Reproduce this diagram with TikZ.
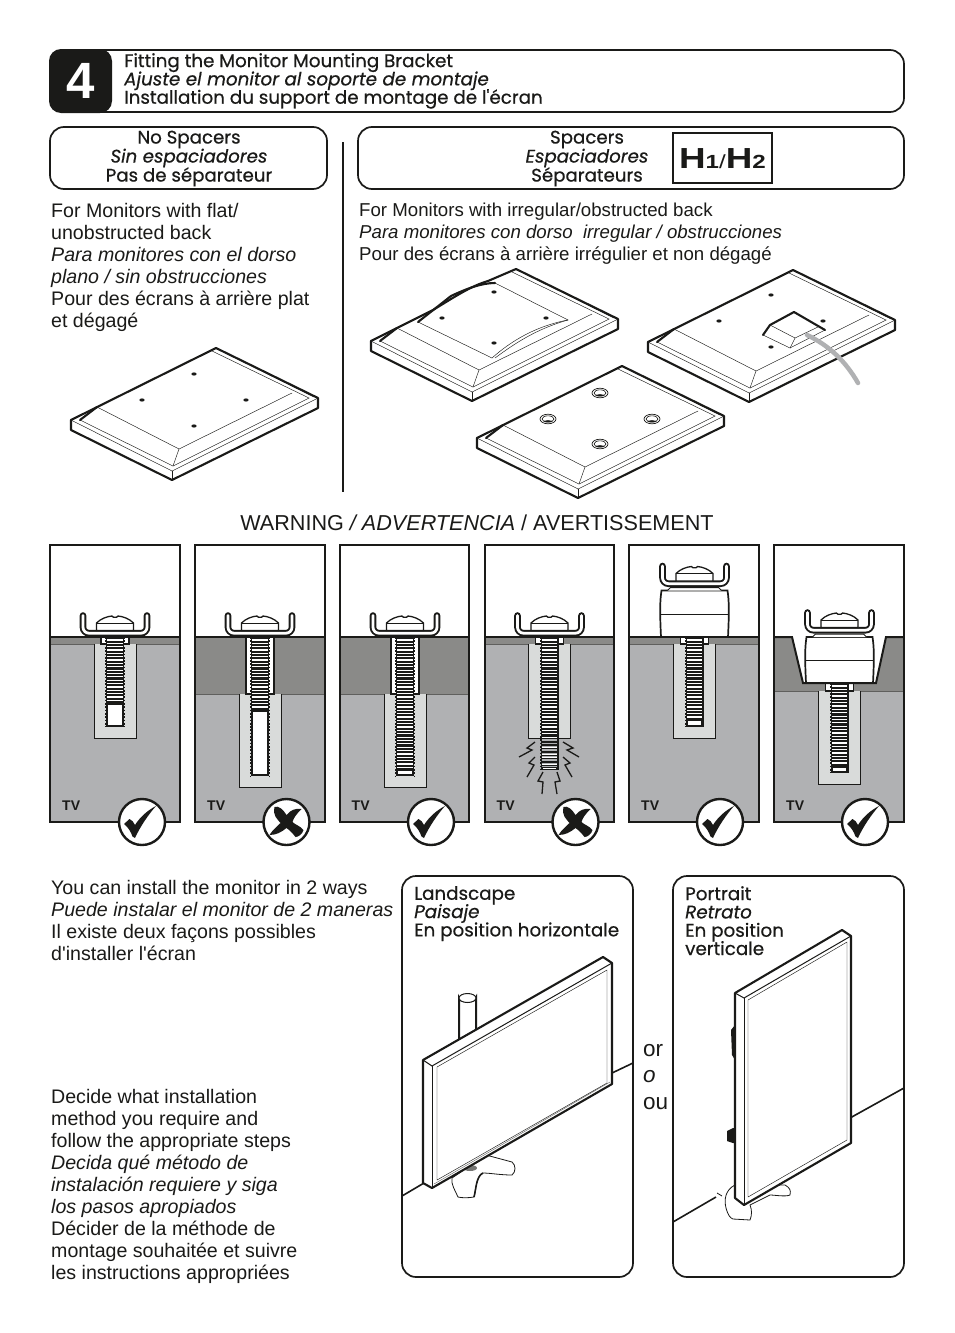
\documentclass[tikz,border=0pt]{standalone}
\usepackage{fontspec}
\setmainfont{Liberation Sans}
\newfontfamily\bodyfont{Liberation Sans}
\newfontfamily\hdfont[FakeBold=0.55]{Poppins}
\setlength\lineskiplimit{-100pt}
\definecolor{tvgray}{HTML}{B0B1B3}
\definecolor{bandgray}{HTML}{8A8A88}
\definecolor{holegray}{HTML}{D9DBDA}
\definecolor{ink}{HTML}{1A1A18}
\definecolor{cable}{HTML}{B0B1B3}
\tikzset{
  box/.style={draw=ink,line width=1.7pt,rounded corners=14pt,fill=white},
  thickln/.style={draw=ink,line width=2.1pt,line join=round,line cap=round},
  thinln/.style={draw=ink,line width=0.45pt},
  body/.style={anchor=north west,inner sep=0pt,align=left,text=ink,font=\bodyfont\fontsize{19.6}{22}\selectfont},
  bodyr/.style={anchor=north west,inner sep=0pt,align=left,text=ink,font=\bodyfont\fontsize{18.65}{22}\selectfont},
  hdl/.style={anchor=north west,inner sep=0pt,align=left,text=ink,font=\hdfont\fontsize{18.3}{18.3}\selectfont},
  hdc/.style={anchor=center,inner sep=0pt,align=center,text=ink,font=\hdfont\fontsize{18.2}{19}\selectfont},
  tvlabel/.style={anchor=base west,inner sep=0pt,text=ink,font=\bfseries\fontsize{14}{14}\selectfont},
}
% plate: origin at left upper corner
\newcommand\plateframe{%
  \path[fill=white] (0,0)--(145,-72)--(247,-22)--(247,-12)--(101,60)--(0,10)--cycle;
  \draw[thickln] (0,0)--(0,10)--(101,60)--(247,-12)--(247,-22)--(145,-72);
  \draw[thinln] (0,0)--(101,51)--(247,-22);
  \draw[thinln] (101,51)--(101,60);
  \draw[thinln] (9,0)--(102,46)--(238,-22)--(141,-69);
  \draw[thinln] (145,-72)--(243,-23);
  \draw[thinln] (108,29)--(102,46);
  \draw[thinln] (26,-13)--(108,29)--(221,-27);
}
\newcommand\plateflat{%
  \draw[thickln] (0,0)--(145,-72);
  \draw[thickln] (9,0)--(26,-13);
}
\newcommand\platedot[1]{\fill[ink] (#1) ellipse (2.6pt and 1.6pt);}
\newcommand\platewasher[1]{%
  \draw[ink,line width=0.7pt,fill=white] (#1) ellipse (8pt and 4.8pt);
  \draw[ink,line width=0.6pt,fill=white] (#1) ellipse (6pt and 3.2pt);
  \begin{scope}
  \clip (#1) ellipse (6pt and 3.2pt);
  \fill[ink] ([yshift=-3.2pt]#1) ellipse (5.5pt and 2pt);
  \end{scope}
}
% bracket and screw head; origin = (cx, underside of bracket)
\newcommand\bracket[2]{%
  \begin{scope}[shift={(#1,#2)}]
  \draw[ink,line width=6.6pt,line cap=round,rounded corners=6pt] (-32,-21)--(-32,-3.3)--(32,-3.3)--(32,-21);
  \draw[white,line width=2.8pt,line cap=round,rounded corners=6pt] (-32,-21)--(-32,-3.3)--(32,-3.3)--(32,-21);
  \draw[ink,line width=1.3pt,fill=white] (-18.5,-6)--(-18.5,-13.5) .. controls (-14,-18) and (-8,-20) .. (-3,-20.5)--(-1.5,-19.2)--(1.5,-19.2)--(3,-20.5) .. controls (8,-20) and (14,-18) .. (18.5,-13.5)--(18.5,-6)--cycle;
  \draw[ink,line width=0.7pt] (-18.5,-13.5)--(18.5,-13.5);
  \end{scope}
}
\newcommand\threads[4]{%
  \pgfmathsetmacro\threadA{#2}\pgfmathsetmacro\threadB{#2+3.35}\pgfmathsetmacro\threadC{#3}
  \foreach \yy in {\threadA,\threadB,...,\threadC}{\draw[#4,line width=1.25pt] (#1-7.6,\yy)--(#1+7.6,\yy);}
}
\newcommand\shaft[4]{% cx, top, thread end, bottom
  \fill[ink] (#1-9,#2) rectangle (#1+9,#4);
  \draw[ink,line width=1pt,dash pattern=on 1.7pt off 1.6pt] (#1-9.4,#2)--(#1-9.4,#4);
  \draw[ink,line width=1pt,dash pattern=on 1.7pt off 1.6pt] (#1+9.4,#2)--(#1+9.4,#4);
  \threads{#1}{#2+3}{#3-2}{white}
  \fill[white] (#1-6.8,#3) rectangle (#1+6.8,#4-1.6);
}
\newcommand\panelbase[5]{% x0,x1,band bottom,centre x,hole bottom
  \fill[white] (#1,545) rectangle (#2,637);
  \fill[tvgray] (#1,637) rectangle (#2,822);
  \fill[bandgray] (#1,637) rectangle (#2,#3);
  \draw[ink!70,line width=0.8pt] (#1,#3)--(#2,#3);
  \fill[holegray] (#4-21,#3) rectangle (#4+21,#5);
  \draw[ink,line width=0.7pt] (#4-21,#3)--(#4-21,#5)--(#4+21,#5)--(#4+21,#3);
}
\newcommand\surface[2]{\draw[ink,line width=1.7pt] (#1,637)--(#2,637);}
\newcommand\collar[3]{% cx, top, bottom
  \draw[ink,line width=1.2pt,fill=white] (#1-14,#2)--(#1-14,#3)--(#1+14,#3)--(#1+14,#2);
}
\newcommand\panelframe[2]{\draw[ink,line width=2.1pt,line join=miter] (#1,545) rectangle (#2,822);}
\newcommand\spacerbody[4]{% cx, top, bottom, mid
  \draw[ink,line width=1.7pt,fill=white] (#1-33.5,#3) .. controls (#1-34.8,#2+20) and (#1-34.5,#2+10) .. (#1-33,#2) -- (#1+33,#2) .. controls (#1+34.5,#2+10) and (#1+34.8,#2+20) .. (#1+33.5,#3) -- cycle;
  \draw[ink,line width=0.9pt] (#1-34,#4)--(#1+34,#4);
  \draw[ink,line width=1pt,fill=white] (#1-27,#2)--(#1-24,#2-3)--(#1+24,#2-3)--(#1+27,#2);
}
\newcommand\markcircle[1]{\draw[ink,line width=2.4pt,fill=white] (#1,822) circle (23pt);}
\newcommand\checkmk[1]{%
  \begin{scope}[shift={(#1,822)}]
  \fill[ink] (-18,2)--(-12.5,-3) .. controls (-10,-2) and (-8.5,0) .. (-7,3) .. controls (-2,-5) and (6,-12) .. (14,-16) .. controls (6,-7) and (-2,5) .. (-7,16) -- (-9.5,14.5) .. controls (-11,10) and (-14,5) .. (-18,2) -- cycle;
  \end{scope}
}
\newcommand\crossmk[1]{%
  \begin{scope}[shift={(#1,822)}]
  \fill[ink] (-12,-15) .. controls (-8,-17) and (-3,-12) .. (0,-7) .. controls (4,-12) and (9,-14) .. (15,-13) .. controls (10,-8) and (7,-4) .. (6,0) .. controls (9,3) and (14,4) .. (17,8) .. controls (16,12) and (12,15) .. (9,15) .. controls (6,11) and (3,8) .. (0,6) .. controls (-5,10) and (-10,13) .. (-17,13) .. controls (-14,8) and (-10,5) .. (-6,1) .. controls (-9,-3) and (-14,-6) .. (-12,-15) -- cycle;
  \end{scope}
}
\begin{document}
\begin{tikzpicture}[x=1pt,y=-1pt]
\useasboundingbox (0,0) rectangle (954,1333);
\fill[white] (0,0) rectangle (954,1333);

% title bar
\draw[box] (50,50) rectangle (904,112);
\fill[ink,rounded corners=12pt] (49,49) rectangle (112,113);
\node[name=stepnum,text=white,font=\bfseries\fontsize{51}{51}\selectfont,inner sep=0pt] at (81,81) {4};
\node[hdl,name=title] at (124,53) {Fitting the Monitor Mounting Bracket\\\textit{Ajuste el monitor al soporte de montaje}\\Installation du support de montage de l'écran};

% sub headers
\draw[box] (50,127) rectangle (327,189);
\node[hdc,name=nospacers] at (189,158.5) {No Spacers\\\textit{Sin espaciadores}\\Pas de séparateur};
\draw[box] (358,127) rectangle (904,189);
\node[hdc,name=spacers] at (587,158.5) {Spacers\\\textit{Espaciadores}\\Séparateurs};
\draw[ink,line width=1.7pt] (673,133) rectangle (772,183);
\node[name=hone,inner sep=0pt,text=ink,xscale=1.27] at (722.5,159) {\fontsize{29}{29}\selectfont\bfseries H\fontsize{19}{19}\selectfont 1\mdseries /\bfseries\fontsize{29}{29}\selectfont H\fontsize{19}{19}\selectfont 2};
\draw[ink,line width=2pt] (343,142)--(343,492);

% upper text
\node[body,name=lefttext] at (51,203) {For Monitors with flat/\\unobstructed back\\\textit{Para monitores con el dorso}\\\textit{plano / sin obstrucciones}\\Pour des écrans à arrière plat\\et dégagé};
\node[bodyr,name=righttext] at (359,203) {For Monitors with irregular/obstructed back\\\textit{Para monitores con dorso\ \ irregular / obstrucciones}\\Pour des écrans à arrière irrégulier et non dégagé};

% plate no spacers
\begin{scope}[shift={(71,420)}]
  \plateframe\plateflat
  \platedot{123,-46}\platedot{71,-20}\platedot{175,-20}\platedot{123,6}
\end{scope}
% plate bulged
\begin{scope}[shift={(371,341)}]
  \plateframe
  \draw[thickln] (0,0)--(62,-31) .. controls (85,-45) and (100,-55) .. (117,-60)--(145,-72);
  \draw[thickln] (9,0)--(26,-13);
  \draw[thinln,fill=white] (47,-19)--(121,17) .. controls (140,0) and (165,-15) .. (197,-21)--(124,-58);
  \draw[thickln] (47,-19)--(80,-45) .. controls (95,-52) and (110,-58) .. (124,-58);
  \draw[thinln] (124,17) .. controls (143,3) and (165,-12) .. (197,-21);
  \platedot{123,-49}\platedot{71,-23}\platedot{175,-23}\platedot{123,2}
\end{scope}
% plate with box
\begin{scope}[shift={(648,342)}]
  \plateframe\plateflat
  \platedot{123,-47}\platedot{71,-21}\platedot{175,-21}\platedot{123,5}
  \path[fill=white] (115,-7)--(122,-17)--(146,-30)--(177,-12)--(142,6)--cycle;
  \draw[thinln] (115,-7)--(142,6)--(177,-12);
  \draw[thinln] (122,-17)--(147,-4)--(170,-15);
  \draw[thinln] (147,-4)--(142,6);
  \draw[thickln] (115,-7)--(122,-17)--(146,-30)--(177,-12);
  \draw[cable,line width=4.5pt,line cap=round] (159,-7) .. controls (182,4) and (198,20) .. (210,41);
\end{scope}
% plate washers
\begin{scope}[shift={(477,438)}]
  \plateframe\plateflat
  \platewasher{123,-45}\platewasher{71,-19}\platewasher{175,-19}\platewasher{123,6}
\end{scope}

\node[name=warning,inner sep=0pt,text=ink,font=\fontsize{21.6}{22}\selectfont] at (477,522.5) {WARNING \textit{/ ADVERTENCIA} / AVERTISSEMENT};

% panel 1
\panelbase{50}{180}{644}{115}{738}
\collar{115}{637}{644}
\shaft{115}{637}{705}{727}
\surface{50}{180}
\bracket{115}{636.5}
\panelframe{50}{180}
% panel 2
\panelbase{195}{325}{694}{260}{787}
\collar{260}{637}{694}
\shaft{260}{637}{712}{776}
\surface{195}{325}
\bracket{260}{636.5}
\panelframe{195}{325}
% panel 3
\panelbase{340}{469}{694}{405}{787}
\collar{405}{637}{694}
\shaft{405}{637}{771}{776}
\surface{340}{469}
\bracket{405}{636.5}
\panelframe{340}{469}
% panel 4
\panelbase{485}{614}{644}{549.5}{738}
\collar{549.5}{637}{644}
\shaft{549.5}{637}{768}{770}
\threads{549.5}{740}{768}{tvgray}
\surface{485}{614}
\bracket{549.5}{636.5}
\draw[ink,line width=1.3pt] (535,742)--(527,748)--(532,750)--(519,757);
\draw[ink,line width=1.3pt] (535,757)--(529,763)--(534,765)--(527,777);
\draw[ink,line width=1.3pt] (543,772)--(538,781)--(543,782)--(542,794);
\draw[ink,line width=1.3pt] (563,742)--(573,748)--(567,750)--(579,757);
\draw[ink,line width=1.3pt] (563,757)--(570,763)--(565,765)--(572,777);
\draw[ink,line width=1.3pt] (557,772)--(560,781)--(555,782)--(557,794);
\panelframe{485}{614}
% panel 5
\panelbase{629}{759}{644}{694.5}{738}
\collar{694.5}{637}{644}
\shaft{694.5}{637}{721}{727}
\surface{629}{759}
\spacerbody{694.5}{590.5}{637}{614}
\bracket{694.5}{587}
\panelframe{629}{759}
% panel 6
\panelbase{774}{904}{691}{839.5}{784}
\fill[white] (792,637)--(803,683)--(876,683)--(886,637)--cycle;
\collar{839.5}{683}{691}
\shaft{839.5}{683}{768}{773}
\draw[ink,line width=2pt,line join=miter] (774,637)--(792,637)--(803,683)--(876,683)--(886,637)--(904,637);
\spacerbody{839.5}{637}{683}{660}
\bracket{839.5}{633.5}
\panelframe{774}{904}
% marks
\markcircle{142}\checkmk{142}
\markcircle{286.5}\crossmk{286.5}
\markcircle{431}\checkmk{431}
\markcircle{575.5}\crossmk{575.5}
\markcircle{720}\checkmk{720}
\markcircle{865}\checkmk{865}
\node[tvlabel,name=tva] at (62,810) {TV};
\node[tvlabel,name=tvb] at (207,810) {TV};
\node[tvlabel,name=tvc] at (351.5,810) {TV};
\node[tvlabel,name=tvd] at (496.5,810) {TV};
\node[tvlabel,name=tve] at (641,810) {TV};
\node[tvlabel,name=tvf] at (786,810) {TV};

% lower left text
\node[body,name=waystext] at (51,880) {You can install the monitor in 2 ways\\\textit{Puede instalar el monitor de 2 maneras}\\Il existe deux façons possibles\\d'installer l'écran};
\node[body,name=decidetext] at (51,1089) {Decide what installation\\method you require and\\follow the appropriate steps\\\textit{Decida qué método de}\\\textit{instalación requiere y siga}\\\textit{los pasos apropiados}\\Décider de la méthode de\\montage souhaitée et suivre\\les instructions appropriées};
\node[name=ortext,anchor=north west,inner sep=0pt,align=left,text=ink,font=\fontsize{22.5}{26.5}\selectfont] at (643,1044) {or\\\textit{o}\\ou};

% landscape
\draw[box] (402,876) rectangle (633,1277);
\node[hdl,name=landtext] at (414,886) {Landscape\\\textit{Paisaje}\\En position horizontale};
\draw[ink,line width=1.6pt] (402,1196)--(424,1183);
\draw[ink,line width=1.6pt] (612,1073)--(633,1063);
\draw[ink,line width=2pt,fill=white] (459,1042)--(459,998) arc[start angle=180,end angle=360,x radius=8.5pt,y radius=3.5pt]--(476,1035);
\draw[ink,line width=1pt,fill=white] (467.5,998) ellipse (8.5pt and 4.5pt);
\draw[ink,line width=0.8pt,fill=white] (486,1155)--(512,1162) .. controls (516,1165) and (516,1172) .. (512,1175) .. controls (500,1175) and (490,1173) .. (483,1173) .. controls (476,1176) and (476,1190) .. (474,1197) .. controls (468,1198) and (462,1198) .. (458,1197) .. controls (455,1190) and (451,1185) .. (452,1178)--cycle;
\draw[ink,line width=1.6pt] (483,1173) .. controls (476,1176) and (476,1190) .. (474,1197);
\fill[ink!60] (470,1168) ellipse (7pt and 3pt);
\draw[thickln,fill=white] (423,1060)--(603,957)--(612,963)--(612,1084)--(432,1188)--(423,1183)--cycle;
\draw[ink,line width=1pt] (423,1060)--(432,1066)--(612,963);
\draw[ink,line width=0.6pt] (432,1066)--(432,1188);
\draw[thinln] (437,1067)--(607,970)--(607,1083)--(437,1180)--cycle;
\draw[ink!70,line width=0.4pt] (434,1184)--(610,1082);

% portrait
\draw[box] (673,876) rectangle (904,1277);
\node[hdl,name=porttext] at (685,886) {Portrait\\\textit{Retrato}\\En position\\verticale};
\draw[ink,line width=1.6pt] (673,1222)--(716,1197);
\draw[ink,line width=1.6pt] (850,1118)--(904,1088);
\draw[ink,line width=0.8pt,fill=white] (735,1185) .. controls (725,1190) and (724,1200) .. (726,1208) .. controls (728,1215) and (730,1218) .. (733,1219)--(750,1220) .. controls (752,1215) and (752,1210) .. (750,1205)--(770,1195) .. controls (775,1195) and (785,1197) .. (790,1195) .. controls (791,1190) and (790,1188) .. (785,1185)--cycle;
\draw[ink,line width=0.8pt] (717,1193)--(722,1196);
\fill[ink] (727,1131)--(733,1128)--(735,1128)--(735,1143)--(733,1143)--(727,1141)--cycle;
\fill[ink] (731,1030)--(735,1025)--(735,1060)--(732,1055)--cycle;
\draw[thickln,fill=white] (735,993)--(842,930)--(851,936)--(851,1143)--(744,1205)--(735,1198)--cycle;
\draw[ink,line width=1pt] (735,993)--(744,998)--(851,936);
\draw[ink,line width=0.6pt] (744,998)--(744,1205);
\draw[thinln] (748,1000)--(847,942)--(847,1140)--(748,1197)--cycle;
\end{tikzpicture}
\end{document}
